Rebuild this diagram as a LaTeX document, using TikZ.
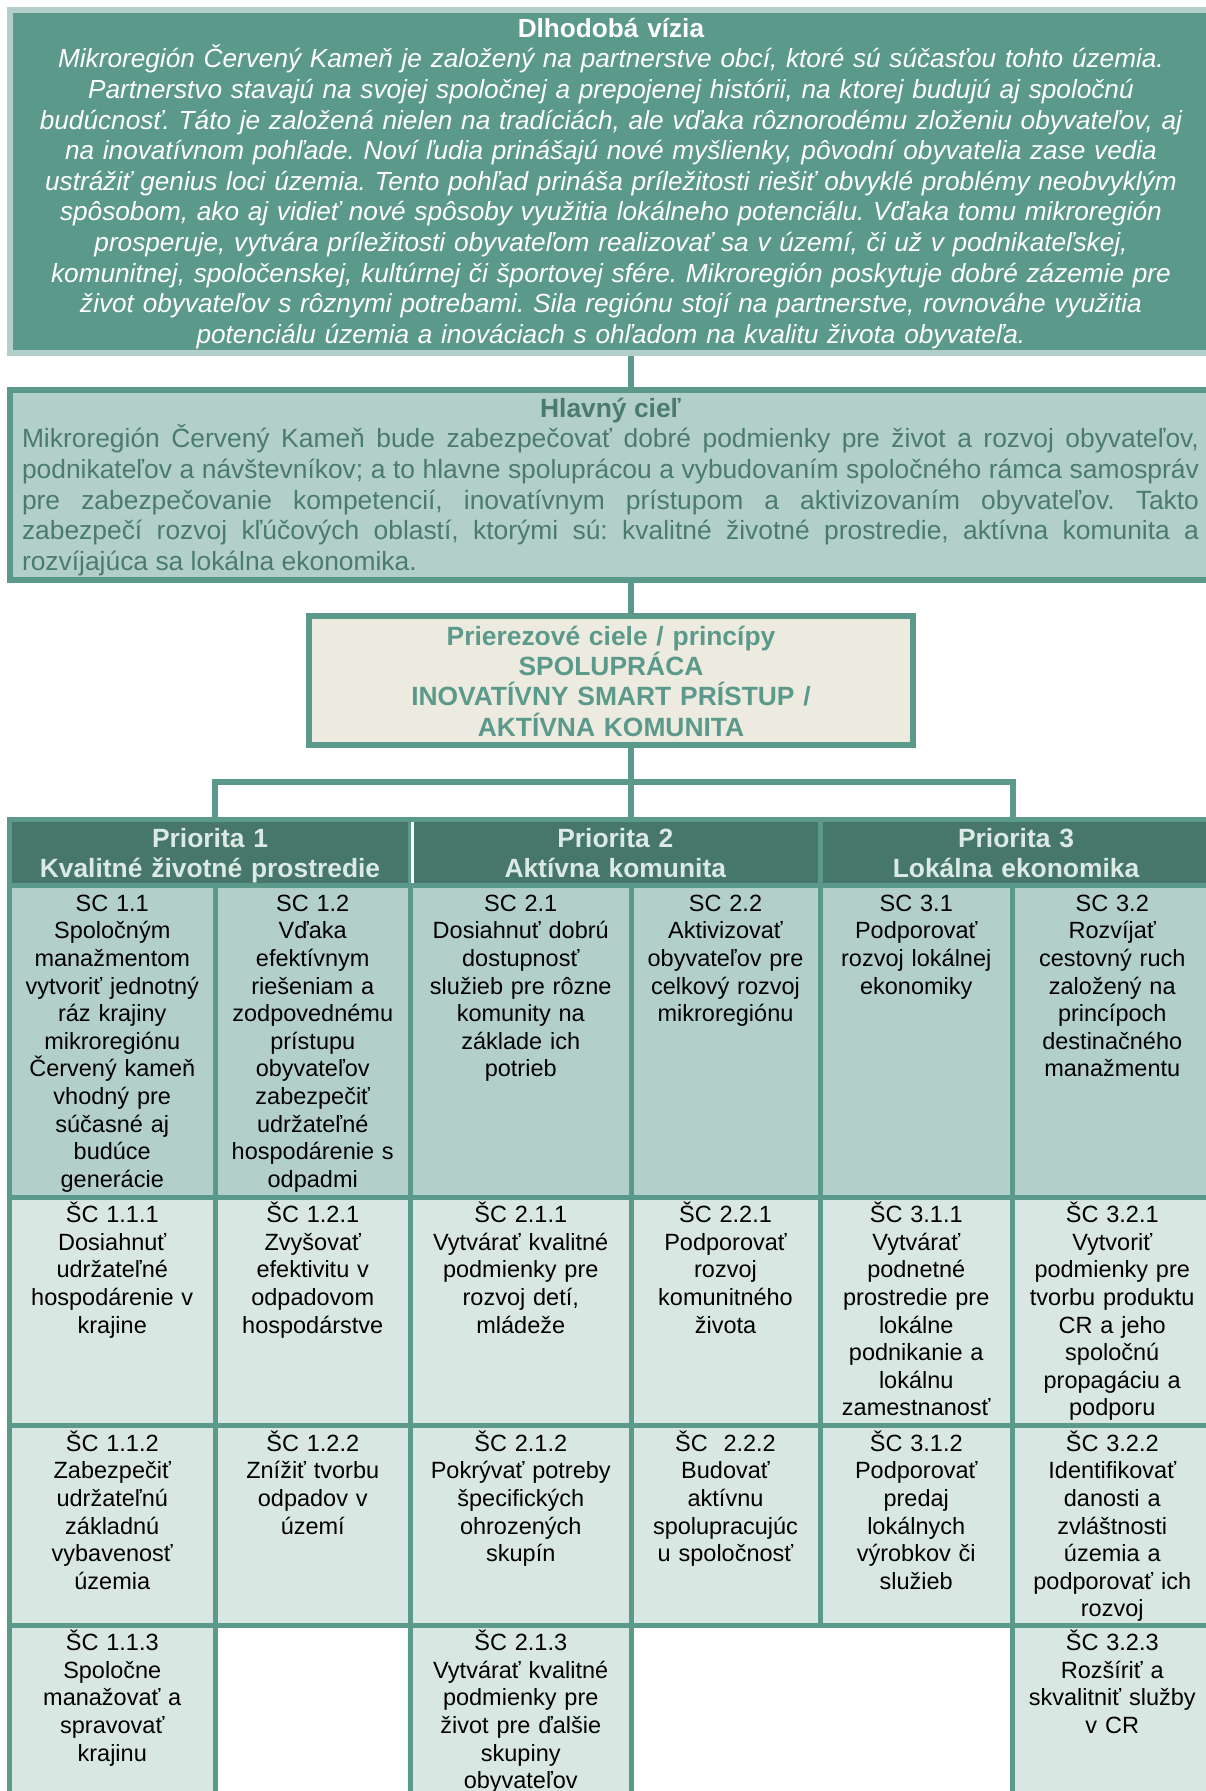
\documentclass[tikz,border=0pt]{standalone}
\usepackage{fontspec}
\setmainfont{Liberation Sans}
\definecolor{tealline}{HTML}{5B9A8B}
\definecolor{lightteal}{HTML}{B2D0C9}
\definecolor{darkteal}{HTML}{47776A}
\definecolor{paleteal}{HTML}{D9E7E3}
\definecolor{beigefill}{HTML}{EDEBE0}
\definecolor{goaltext}{HTML}{4A7B6E}
\definecolor{headlight}{HTML}{DCEAE6}
\newcommand{\mystrut}{\rule{0pt}{22pt}}
\newcommand{\goalspace}{\spaceskip=7.34pt plus 12pt minus 3.6pt\relax}
\newcommand{\fullline}[1]{\makebox[1177pt][s]{#1}}
\frenchspacing
\begin{document}
\frenchspacing
\begin{tikzpicture}[x=1pt,y=-1pt,
  bigbox/.style={rectangle, inner sep=0pt, outer sep=3pt, line width=6pt},
  conn/.style={draw=tealline, line width=6pt, line join=miter},
  cell/.style={rectangle, draw=tealline, line width=5pt, inner sep=0pt, outer sep=2.5pt},
  hcell/.style={cell, fill=darkteal, minimum height=66.5pt},
  scell/.style={cell, fill=lightteal, minimum height=311.5pt},
  acell/.style={cell, fill=paleteal, minimum height=228.5pt},
  bcell/.style={cell, fill=paleteal, minimum height=199.5pt},
  ccell/.style={cell, fill=paleteal, minimum height=205pt},
  colA/.style={minimum width=205.5pt},
  colB/.style={minimum width=195.5pt},
  colC/.style={minimum width=220.5pt},
  colD/.style={minimum width=189pt},
  colE/.style={minimum width=192.5pt},
  colF/.style={minimum width=199.5pt},
  ctext/.style={anchor=north, inner sep=0pt, align=center, text width=240pt, text=black, font=\fontsize{23.5}{27.6}\selectfont},
  htext/.style={anchor=north, inner sep=0pt, align=center, text width=400pt, text=headlight, font=\bfseries\fontsize{26.4}{30}\selectfont},
]
\useasboundingbox (0,0) rectangle (1206,1791);
\clip (0,0) rectangle (1206,1791);

% ---------- Long-term vision ----------
\node[bigbox, fill=tealline, draw=lightteal, minimum width=1242pt, minimum height=343pt] (vision) at (631,181.5) {};
\node[anchor=north, inner sep=0pt, align=center, text width=1180pt, text=white,
      font=\fontsize{26.2}{30.6}\selectfont] (visiontext) at (611,15)
{\mystrut\textbf{Dlhodobá vízia}\\
\itshape Mikroregión Červený Kameň je založený na partnerstve obcí, ktoré sú súčasťou tohto územia.\\
Partnerstvo stavajú na svojej spoločnej a prepojenej histórii, na ktorej budujú aj spoločnú\\
budúcnosť. Táto je založená nielen na tradíciách, ale vďaka rôznorodému zloženiu obyvateľov, aj\\
na inovatívnom pohľade. Noví ľudia prinášajú nové myšlienky, pôvodní obyvatelia zase vedia\\
ustrážiť genius loci územia. Tento pohľad prináša príležitosti riešiť obvyklé problémy neobvyklým\\
spôsobom, ako aj vidieť nové spôsoby využitia lokálneho potenciálu. Vďaka tomu mikroregión\\
prosperuje, vytvára príležitosti obyvateľom realizovať sa v území, či už v podnikateľskej,\\
komunitnej, spoločenskej, kultúrnej či športovej sfére. Mikroregión poskytuje dobré zázemie pre\\
život obyvateľov s rôznymi potrebami. Sila regiónu stojí na partnerstve, rovnováhe využitia\\
potenciálu územia a inováciach s ohľadom na kvalitu života obyvateľa.};

% ---------- Main goal ----------
\node[bigbox, fill=lightteal, draw=tealline, minimum width=1242pt, minimum height=190pt] (hlavny) at (631,485) {};
\node[anchor=north, inner sep=0pt, align=left, text width=1177pt, text=goaltext,
      font=\fontsize{26.4}{30.6}\selectfont] (hlavnytext) at (610.5,395)
{\goalspace\mystrut\makebox[1177pt]{\textbf{Hlavný cieľ}}\\
\fullline{Mikroregión Červený Kameň bude zabezpečovať dobré podmienky pre život a rozvoj obyvateľov,}\\
\fullline{podnikateľov a návštevníkov; a to hlavne spoluprácou a vybudovaním spoločného rámca samospráv}\\
\fullline{pre zabezpečovanie kompetencií, inovatívnym prístupom a aktivizovaním obyvateľov. Takto}\\
\fullline{zabezpečí rozvoj kľúčových oblastí, ktorými sú: kvalitné životné prostredie, aktívna komunita a}\\
rozvíjajúca sa lokálna ekonomika.};

% ---------- Cross-cutting goals ----------
\node[bigbox, fill=beigefill, draw=tealline, minimum width=604pt, minimum height=129pt] (prier) at (611,680.5) {};
\node[anchor=north, inner sep=0pt, align=center, text width=600pt, text=tealline,
      font=\bfseries\fontsize{26.4}{30.3}\selectfont] (priertext) at (611,623)
{\mystrut Prierezové ciele / princípy\\SPOLUPRÁCA\\INOVATÍVNY SMART PRÍSTUP /\\AKTÍVNA KOMUNITA};

% ---------- Priority headers ----------
\node[hcell, minimum width=401pt] (p1) at (210,852.25) {};
\node[hcell, minimum width=409.5pt] (p2) at (615.25,852.25) {};
\node[hcell, minimum width=392pt] (p3) at (1016,852.25) {};
\draw[white, line width=3pt] (412,822) -- (412,883);
\node[htext] (p1text) at (210,825) {\mystrut Priorita 1\\Kvalitné životné prostredie};
\node[htext] (p2text) at (615.25,825) {\mystrut Priorita 2\\Aktívna komunita};
\node[htext] (p3text) at (1016,825) {\mystrut Priorita 3\\Lokálna ekonomika};

% ---------- Connectors ----------
\coordinate (jc) at (631,782);
\coordinate (jl) at (215,782);
\coordinate (jr) at (1013,782);
\draw[conn] (vision.south) -- (hlavny.north);
\draw[conn] (hlavny.south) -- (hlavny.south |- prier.north);
\draw[conn] (prier.south -| jc) -- (jc) -- (jc |- p2.north);
\draw[conn] (jl |- p1.north) -- (jl) -- (jr) -- (jr |- p3.north);

% ---------- SC row ----------
\node[scell, colA] (s1) at (112.25,1041.25) {};
\node[scell, colB] (s2) at (312.75,1041.25) {};
\node[scell, colC] (s3) at (520.75,1041.25) {};
\node[scell, colD] (s4) at (725.5,1041.25) {};
\node[scell, colE] (s5) at (916.25,1041.25) {};
\node[scell, colF] (s6) at (1112.25,1041.25) {};
\node[ctext] (ts1) at (112.25,889) {\mystrut SC 1.1\\Spoločným\\manažmentom\\vytvoriť jednotný\\ráz krajiny\\mikroregiónu\\Červený kameň\\vhodný pre\\súčasné aj\\budúce\\generácie};
\node[ctext] (ts2) at (312.75,889) {\mystrut SC 1.2\\Vďaka\\efektívnym\\riešeniam a\\zodpovednému\\prístupu\\obyvateľov\\zabezpečiť\\udržateľné\\hospodárenie s\\odpadmi};
\node[ctext] (ts3) at (520.75,889) {\mystrut SC 2.1\\Dosiahnuť dobrú\\dostupnosť\\služieb pre rôzne\\komunity na\\základe ich\\potrieb};
\node[ctext] (ts4) at (725.5,889) {\mystrut SC 2.2\\Aktivizovať\\obyvateľov pre\\celkový rozvoj\\mikroregiónu};
\node[ctext] (ts5) at (916.25,889) {\mystrut SC 3.1\\Podporovať\\rozvoj lokálnej\\ekonomiky};
\node[ctext] (ts6) at (1112.25,889) {\mystrut SC 3.2\\Rozvíjať\\cestovný ruch\\založený na\\princípoch\\destinačného\\manažmentu};

% ---------- ŠC row 1 ----------
\node[acell, colA] (a1) at (112.25,1311.25) {};
\node[acell, colB] (a2) at (312.75,1311.25) {};
\node[acell, colC] (a3) at (520.75,1311.25) {};
\node[acell, colD] (a4) at (725.5,1311.25) {};
\node[acell, colE] (a5) at (916.25,1311.25) {};
\node[acell, colF] (a6) at (1112.25,1311.25) {};
\node[ctext] (ta1) at (112.25,1200.5) {\mystrut ŠC 1.1.1\\Dosiahnuť\\udržateľné\\hospodárenie v\\krajine};
\node[ctext] (ta2) at (312.75,1200.5) {\mystrut ŠC 1.2.1\\Zvyšovať\\efektivitu v\\odpadovom\\hospodárstve};
\node[ctext] (ta3) at (520.75,1200.5) {\mystrut ŠC 2.1.1\\Vytvárať kvalitné\\podmienky pre\\rozvoj detí,\\mládeže};
\node[ctext] (ta4) at (725.5,1200.5) {\mystrut ŠC 2.2.1\\Podporovať\\rozvoj\\komunitného\\života};
\node[ctext] (ta5) at (916.25,1200.5) {\mystrut ŠC 3.1.1\\Vytvárať\\podnetné\\prostredie pre\\lokálne\\podnikanie a\\lokálnu\\zamestnanosť};
\node[ctext] (ta6) at (1112.25,1200.5) {\mystrut ŠC 3.2.1\\Vytvoriť\\podmienky pre\\tvorbu produktu\\CR a jeho\\spoločnú\\propagáciu a\\podporu};

% ---------- ŠC row 2 ----------
\node[bcell, colA] (b1) at (112.25,1525.25) {};
\node[bcell, colB] (b2) at (312.75,1525.25) {};
\node[bcell, colC] (b3) at (520.75,1525.25) {};
\node[bcell, colD] (b4) at (725.5,1525.25) {};
\node[bcell, colE] (b5) at (916.25,1525.25) {};
\node[bcell, colF] (b6) at (1112.25,1525.25) {};
\node[ctext] (tb1) at (112.25,1429) {\mystrut ŠC 1.1.2\\Zabezpečiť\\udržateľnú\\základnú\\vybavenosť\\územia};
\node[ctext] (tb2) at (312.75,1429) {\mystrut ŠC 1.2.2\\Znížiť tvorbu\\odpadov v\\území};
\node[ctext] (tb3) at (520.75,1429) {\mystrut ŠC 2.1.2\\Pokrývať potreby\\špecifických\\ohrozených\\skupín};
\node[ctext] (tb4) at (725.5,1429) {\mystrut ŠC~~2.2.2\\Budovať\\aktívnu\\spolupracujúc\\u spoločnosť};
\node[ctext] (tb5) at (916.25,1429) {\mystrut ŠC 3.1.2\\Podporovať\\predaj\\lokálnych\\výrobkov či\\služieb};
\node[ctext] (tb6) at (1112.25,1429) {\mystrut ŠC 3.2.2\\Identifikovať\\danosti a\\zvláštnosti\\územia a\\podporovať ich\\rozvoj};

% ---------- ŠC row 3 ----------
\node[ccell, colA] (c1) at (112.25,1727.5) {};
\node[ccell, colC] (c3) at (520.75,1727.5) {};
\node[ccell, colF] (c6) at (1112.25,1727.5) {};
\node[ctext] (tc1) at (112.25,1628.5) {\mystrut ŠC 1.1.3\\Spoločne\\manažovať a\\spravovať\\krajinu};
\node[ctext] (tc3) at (520.75,1628.5) {\mystrut ŠC 2.1.3\\Vytvárať kvalitné\\podmienky pre\\život pre ďalšie\\skupiny\\obyvateľov};
\node[ctext] (tc6) at (1112.25,1628.5) {\mystrut ŠC 3.2.3\\Rozšíriť a\\skvalitniť služby\\v CR};
\end{tikzpicture}
\end{document}
